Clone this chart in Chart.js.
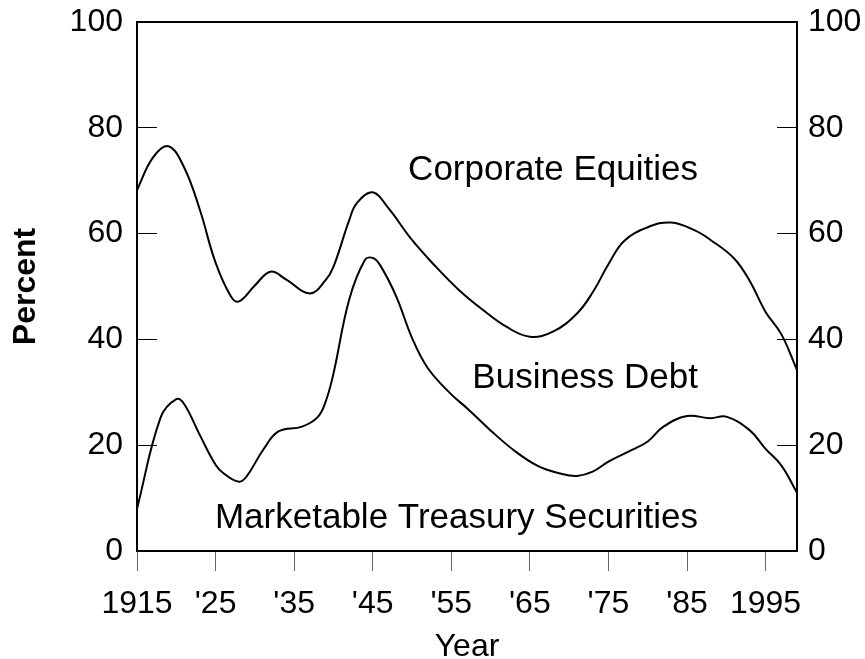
<!DOCTYPE html>
<html>
<head>
<meta charset="utf-8">
<script src="https://cdn.jsdelivr.net/npm/chart.js@4/dist/chart.umd.min.js"></script>
<style>
  body { margin: 0; background: #fff; }
  canvas { display: block; }
</style>
</head>
<body>
<canvas id="shareChart" width="865" height="659"></canvas>
<script>
// values (percent)
const equityYears  = [1915, 1917, 1919, 1921, 1923, 1925, 1927, 1928, 1930, 1932, 1934, 1937, 1939, 1940, 1942, 1943, 1945, 1947, 1950, 1953, 1956, 1959, 1962, 1965, 1968, 1971, 1973, 1975, 1977, 1980, 1983, 1986, 1988, 1991, 1993, 1995, 1997, 1999];
const equityValues = [68.2, 74.3, 76.5, 72.5, 64.5, 54.5, 48.0, 47.2, 50.2, 52.8, 51.3, 48.7, 51.2, 53.7, 62.5, 65.8, 67.8, 64.8, 58.8, 53.8, 49.3, 45.6, 42.4, 40.5, 41.5, 44.9, 48.9, 54.2, 58.6, 61.2, 62.1, 60.6, 58.8, 55.3, 51.0, 45.2, 41.0, 34.2];

const debtYears  = [1915, 1918, 1920, 1921, 1923, 1925, 1926, 1928, 1929, 1931, 1933, 1936, 1938, 1939, 1940, 1942, 1944, 1945, 1946, 1948, 1950, 1952, 1955, 1957, 1960, 1963, 1966, 1969, 1971, 1973, 1975, 1978, 1980, 1982, 1985, 1988, 1990, 1993, 1995, 1997, 1999];
const debtValues = [8.0, 25.2, 28.7, 27.8, 21.9, 16.3, 14.7, 13.1, 14.2, 19.0, 22.6, 23.5, 25.3, 28.2, 33.5, 47.5, 55.0, 55.4, 53.9, 48.1, 40.3, 34.6, 29.6, 27.0, 22.8, 19.0, 16.1, 14.6, 14.2, 15.0, 16.9, 19.1, 20.7, 23.5, 25.5, 25.1, 25.4, 22.8, 19.3, 16.2, 11.0];

const tickYears  = [1915, 1925, 1935, 1945, 1955, 1965, 1975, 1985, 1995];
const tickLabels = ['1915', "'25", "'35", "'45", "'55", "'65", "'75", "'85", '1995'];

// series names written inside the plot, anchored by their right end / baseline
const labelTexts  = ['Corporate Equities', 'Business Debt', 'Marketable Treasury Securities'];
const labelYears  = [1986.4, 1986.4, 1986.4];
const labelValues = [70.1, 30.9, 4.3];

const FONT = '"Liberation Sans", Arial, sans-serif';
Chart.defaults.font.family = FONT;
Chart.defaults.color = '#000';

function toPoints(xs, ys) {
  return xs.map((x, i) => ({x: x, y: ys[i]}));
}

// fixed axis box sizes so the plot sits where it does in the original
function fixWidth(w) {
  return (scale) => { scale.width = w; scale.paddingTop = 0; scale.paddingBottom = 0; };
}

const seriesLabels = {
  id: 'seriesLabels',
  afterDatasetsDraw(chart) {
    const ctx = chart.ctx;
    const xs = chart.scales.x, ys = chart.scales.y;
    ctx.save();
    ctx.font = '35px ' + FONT;
    ctx.fillStyle = '#000';
    ctx.textAlign = 'right';
    ctx.textBaseline = 'alphabetic';
    for (let i = 0; i < labelTexts.length; i++) {
      ctx.fillText(labelTexts[i], xs.getPixelForValue(labelYears[i]), ys.getPixelForValue(labelValues[i]));
    }
    ctx.restore();
  }
};

const lineStyle = {
  borderColor: '#000',
  borderWidth: 2,
  pointRadius: 0,
  fill: false,
  tension: 0.4
};

new Chart(document.getElementById('shareChart'), {
  type: 'line',
  data: {
    datasets: [
      Object.assign({label: 'Corporate Equities', data: toPoints(equityYears, equityValues)}, lineStyle),
      Object.assign({label: 'Business Debt', data: toPoints(debtYears, debtValues)}, lineStyle)
    ]
  },
  options: {
    responsive: false,
    animation: false,
    layout: {padding: 0},
    plugins: {
      legend: {display: false},
      tooltip: {enabled: false}
    },
    scales: {
      x: {
        type: 'linear',
        position: 'bottom',
        min: 1915,
        max: 1999,
        afterBuildTicks: (scale) => { scale.ticks = tickYears.map(v => ({value: v})); },
        afterFit: (scale) => { scale.height = 108; },
        ticks: {
          font: {size: 32},
          padding: 14,
          maxRotation: 0,
          autoSkip: false,
          callback: (v) => tickLabels[tickYears.indexOf(v)]
        },
        grid: {drawOnChartArea: false, tickLength: 20, color: '#666', lineWidth: 1},
        border: {color: '#000', width: 2},
        title: {display: true, text: 'Year', font: {size: 32, lineHeight: 0.75}, padding: 0}
      },
      xTop: {
        type: 'linear',
        position: 'top',
        min: 1915,
        max: 1999,
        afterFit: (scale) => { scale.height = 22; },
        ticks: {display: false},
        grid: {drawOnChartArea: false, drawTicks: false},
        border: {color: '#000', width: 2}
      },
      y: {
        position: 'left',
        min: 0,
        max: 100,
        afterFit: fixWidth(137),
        ticks: {stepSize: 20, font: {size: 32}, padding: 34},
        grid: {drawOnChartArea: false, tickLength: -20, color: '#000', lineWidth: 1},
        border: {color: '#000', width: 2},
        title: {display: true, text: 'Percent', font: {size: 32, weight: 'bold'}, padding: {top: 7, bottom: 0}}
      },
      y2: {
        position: 'right',
        min: 0,
        max: 100,
        afterFit: fixWidth(68),
        ticks: {stepSize: 20, font: {size: 32}, padding: 31},
        grid: {drawOnChartArea: false, tickLength: -20, color: '#000', lineWidth: 1},
        border: {color: '#000', width: 2}
      }
    }
  },
  plugins: [seriesLabels]
});
</script>
</body>
</html>
